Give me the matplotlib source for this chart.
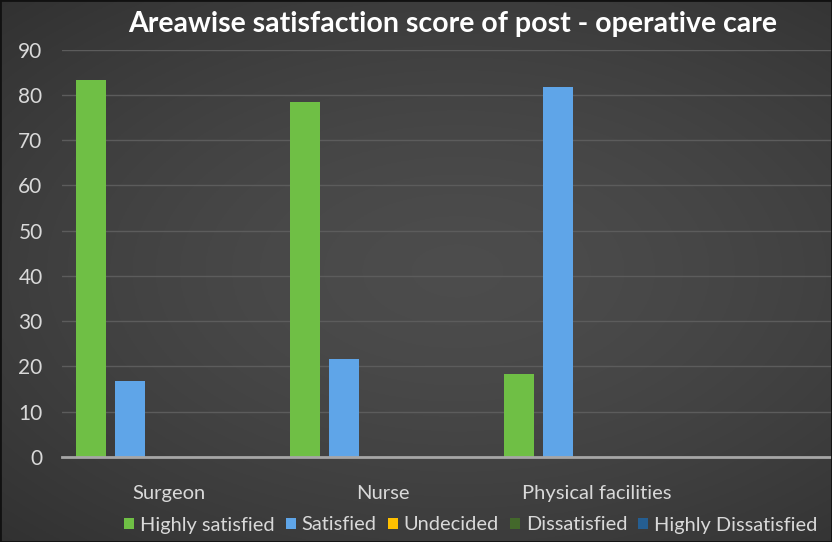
import matplotlib.pyplot as plt
import numpy as np

plt.rcParams['font.family'] = ['Lato', 'DejaVu Sans']

categories = ['Surgeon', 'Nurse', 'Physical facilities']
series = ['Highly satisfied', 'Satisfied', 'Undecided', 'Dissatisfied', 'Highly Dissatisfied']
highly_satisfied = [83.3, 78.3, 18.3]
satisfied = [16.7, 21.7, 81.7]
undecided = [0, 0, 0]
dissatisfied = [0, 0, 0]
highly_dissatisfied = [0, 0, 0]
values = [highly_satisfied, satisfied, undecided, dissatisfied, highly_dissatisfied]
colors = ['#6fbf45', '#5fa5e8', '#ffc000', '#43682b', '#255e91']

W, H = 832, 542
fig = plt.figure(figsize=(W / 100, H / 100), dpi=100)

# dark radial background
bg = fig.add_axes([0, 0, 1, 1])
yy, xx = np.mgrid[0:1:300j, 0:1:400j]
r = np.sqrt(((xx - 0.55) / 0.9) ** 2 + ((yy - 0.5) / 0.8) ** 2)
shade = 0.30 - 0.13 * np.clip(r, 0, 1) ** 1.5
bg.imshow(np.dstack([shade] * 3), extent=[0, 1, 0, 1], aspect='auto')
bg.set_axis_off()
fig.patches.append(plt.Rectangle((0, 0), 1, 1, transform=fig.transFigure,
                                 fill=False, edgecolor='#111111', linewidth=2))

left, right = 62, 832
bottom, top = 457, 49.5
ax = fig.add_axes([left / W, 1 - bottom / H, (right - left) / W, (bottom - top) / H])
ax.patch.set_alpha(0)

cat_px = 214.0
x = np.arange(len(categories))
bw = 30 / cat_px
pitch = 39 / cat_px
for i, (name, vals) in enumerate(zip(series, values)):
    ax.bar(x + (i - 2) * pitch, vals, width=bw, color=colors[i], label=name, zorder=3)

ax.set_xlim(-0.5, -0.5 + (right - left) / cat_px)
ax.set_ylim(0, 90)
ax.set_yticks(range(0, 91, 10))
ax.set_xticks(x)
ax.set_xticklabels(categories)
ax.grid(axis='y', color='#5c5c5c', linewidth=1, zorder=0)
ax.tick_params(axis='y', length=0, pad=14, labelsize=15, labelcolor='#d9d9d9')
ax.tick_params(axis='x', length=0, pad=20, labelsize=14.5, labelcolor='#d9d9d9')
for s in ['top', 'right', 'left']:
    ax.spines[s].set_visible(False)
ax.spines['bottom'].set_color('#a6a6a6')
ax.spines['bottom'].set_linewidth(2)
ax.spines['bottom'].set_zorder(4)

fig.text(453 / W, 1 - 24 / H, 'Areawise satisfaction score of post - operative care',
         ha='center', va='center', color='white', fontsize=20.5, fontweight='bold')

fig.legend(loc='center left', bbox_to_anchor=(124 / W, 1 - 525 / H), ncol=5,
           frameon=False, fontsize=14.4, labelcolor='#d9d9d9', handlelength=0.5,
           handleheight=0.5, handletextpad=0.3, columnspacing=0.55, borderpad=0,
           borderaxespad=0)

fig.savefig('out.png', dpi=100)
